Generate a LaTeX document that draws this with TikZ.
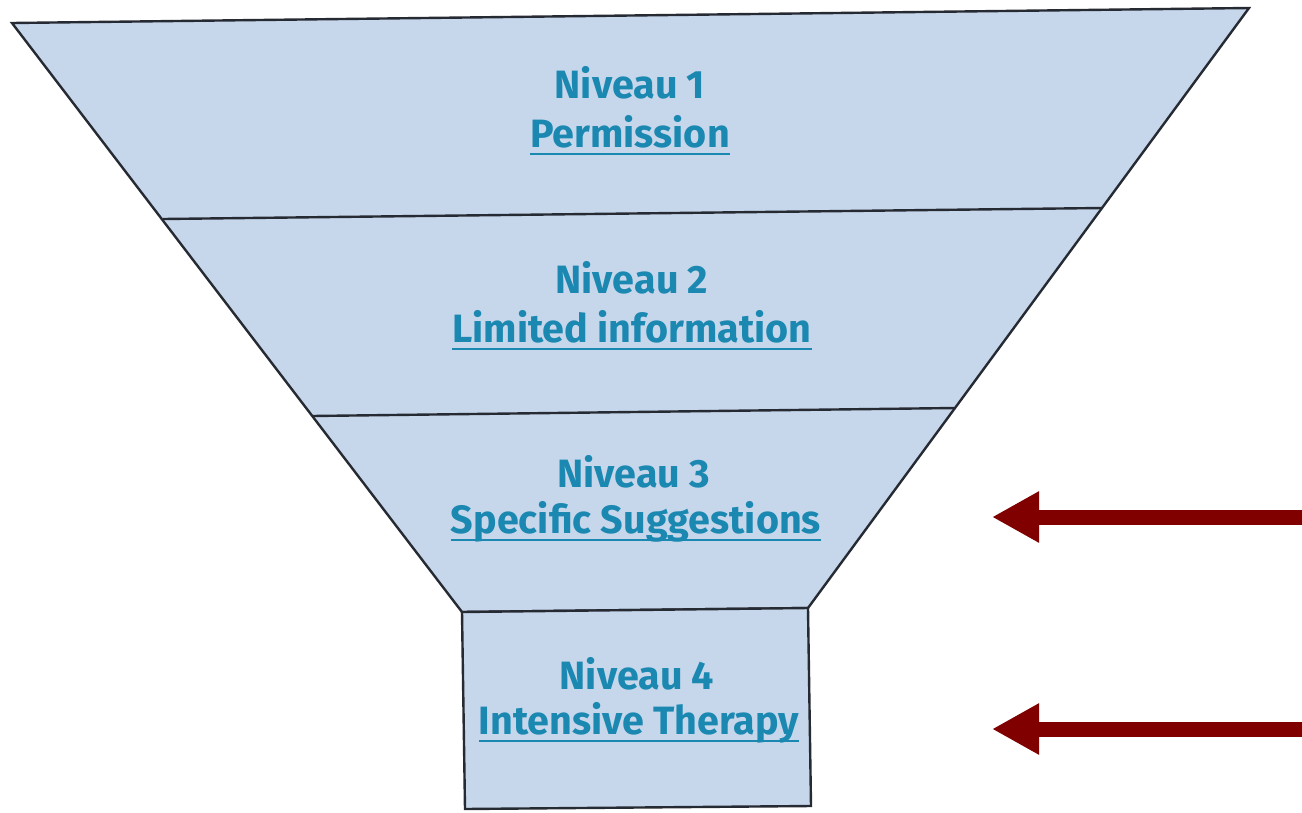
\documentclass[tikz,border=0pt]{standalone}
\usepackage{fontspec}
\setsansfont{Fira Sans}
\usetikzlibrary{arrows.meta}
\definecolor{funnelfill}{RGB}{198,214,235}
\definecolor{funneledge}{RGB}{38,42,50}
\definecolor{leveltext}{RGB}{26,136,176}
\definecolor{arrowred}{RGB}{128,0,0}
\begin{document}
\begin{tikzpicture}[x=1pt,y=-1pt,font=\sffamily\bfseries\fontsize{39.5}{46}\selectfont,
	level/.style={text=leveltext,inner sep=0pt,anchor=base},
	uline/.style={draw=leveltext,line width=2.5pt},
	pointer/.style={draw=arrowred,line width=15pt,-{Triangle[length=47pt,width=48pt]}}]
	\useasboundingbox (0,0) rectangle (1302,812); %page

	%funnel
	\draw[fill=funnelfill,draw=funneledge,line width=2.4pt,line join=miter] (12,23) -- (1249,8) -- (808,608) -- (462,612) -- cycle; %levels 1-3
	\draw[fill=funnelfill,draw=funneledge,line width=2.4pt] (462,612) -- (808,608) -- (811,806) -- (465,809) -- cycle; %level 4
	\draw[draw=funneledge,line width=2.4pt] (163,219) -- (1102,208); %divider 1
	\draw[draw=funneledge,line width=2.4pt] (312,416) -- (955,408); %divider 2

	%level 1
	\node[level] (n1) at (630,98) {Niveau 1};
	\node[level] (t1) at (630,147) {Permission};
	\draw[uline] ([yshift=-7pt]t1.base west) -- ([yshift=-7pt]t1.base east); %underline 1

	%level 2
	\node[level] (n2) at (632,293) {Niveau 2};
	\node[level] (t2) at (632,342) {Limited information};
	\draw[uline] ([yshift=-7pt]t2.base west) -- ([yshift=-7pt]t2.base east); %underline 2

	%level 3
	\node[level] (n3) at (634,487) {Niveau 3};
	\node[level] (t3) at (636,533) {Specific Suggestions};
	\draw[uline] ([yshift=-7pt]t3.base west) -- ([yshift=-7pt]t3.base east); %underline 3

	%level 4
	\node[level] (n4) at (637,689) {Niveau 4};
	\node[level] (t4) at (639,734) {Intensive Therapy};
	\draw[uline] ([yshift=-7pt]t4.base west) -- ([yshift=-7pt]t4.base east); %underline 4

	%arrows
	\coordinate (a3s) at (1302,517);
	\coordinate (a3e) at (992,517);
	\coordinate (a4s) at (1302,729);
	\coordinate (a4e) at (992,729);
	\draw[pointer] (a3s) -- (a3e); %arrow level 3
	\draw[pointer] (a4s) -- (a4e); %arrow level 4
\end{tikzpicture}
\end{document}
